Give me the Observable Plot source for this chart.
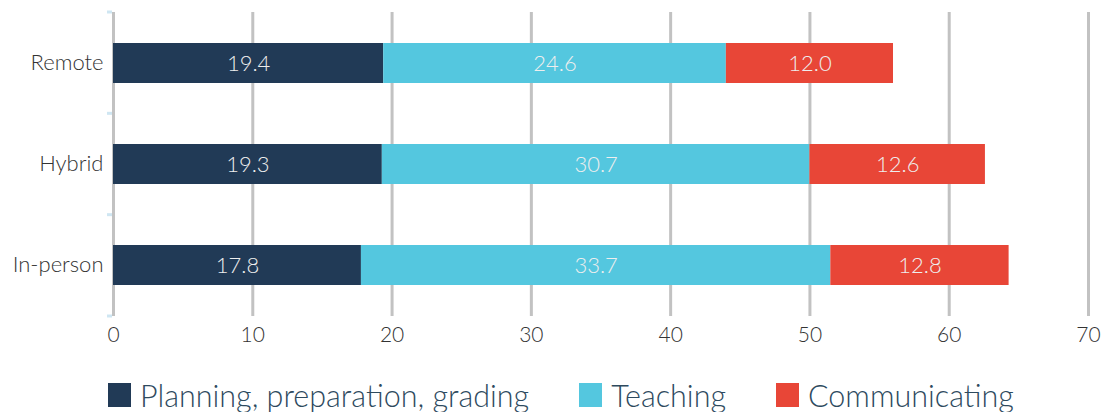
<!DOCTYPE html>
<html>
<head>
<meta charset="utf-8">
<script src="https://cdn.jsdelivr.net/npm/d3@7"></script>
<script src="https://cdn.jsdelivr.net/npm/@observablehq/plot@0.6"></script>
<style>
  body { margin: 0; background: #fff; font-family: Lato, "Open Sans", sans-serif; }
  #legend { display: flex; align-items: center; margin-left: 108px; margin-top: 18px; font-family: Lato, sans-serif; font-weight: 300; font-size: 30.5px; line-height: 34px; color: #2e4a5e; }
  .item { display: flex; align-items: center; margin-right: 50px; }
  .sw { width: 23px; height: 24px; margin-right: 9px; }
</style>
</head>
<body>
<div id="chart"></div>
<div id="legend"></div>
<script>
const categories = ["Remote", "Hybrid", "In-person"];
const seriesNames = ["Planning, preparation, grading", "Teaching", "Communicating"];
const planning = [19.4, 19.3, 17.8];
const teaching = [24.6, 30.7, 33.7];
const communicating = [12.0, 12.6, 12.8];
const xTicks = [0, 10, 20, 30, 40, 50, 60, 70];
const colors = ["#213a56", "#54c7df", "#e84637"];

const seriesValues = [planning, teaching, communicating];
const data = [];
seriesNames.forEach((s, si) => {
  categories.forEach((c, ci) => {
    data.push({category: c, series: s, value: seriesValues[si][ci]});
  });
});

const W = 1116, H = 360, mt = 12, mb = 44;
const bandTicks = (index, scales, values, dims) => {
  const g = d3.create("svg:g");
  const top = dims.marginTop, bottom = dims.height - dims.marginBottom;
  const n = categories.length;
  for (let i = 0; i <= n; i++) {
    const y = top + (bottom - top) * i / n;
    g.append("line").attr("x1", dims.marginLeft - 6).attr("x2", dims.marginLeft - 1)
      .attr("y1", y).attr("y2", y).attr("stroke", "#cfe6f2").attr("stroke-width", 3);
  }
  return g.node();
};

const chart = Plot.plot({
  width: W,
  height: H,
  marginTop: mt,
  marginBottom: mb,
  marginLeft: 113,
  marginRight: 28,
  style: {fontFamily: "Lato, sans-serif", fontSize: "22px", fontWeight: 300, color: "#333", background: "#fff"},
  x: {domain: [0, 70], ticks: xTicks, label: null},
  y: {domain: categories, paddingInner: 0.6, paddingOuter: 0.3, label: null},
  color: {domain: seriesNames, range: colors},
  marks: [
    Plot.gridX(xTicks, {stroke: "#c2c2c2", strokeWidth: 3, strokeOpacity: 1}),
    Plot.barX(data, Plot.stackX({x: "value", y: "category", fill: "series", z: "series"})),
    Plot.text(data, Plot.stackX({x: "value", y: "category", z: "series", text: d => d.value.toFixed(1), fill: "#eeeeee", fontSize: 22, fontWeight: 300})),
    Plot.axisX({ticks: xTicks, tickSize: 0, tickPadding: 11, fontSize: 21, fill: "#333", label: null}),
    Plot.axisY({tickSize: 0, tickPadding: 10, fontSize: 22, fill: "#333", label: null, dy: -1}),
    bandTicks
  ]
});
document.getElementById("chart").appendChild(chart);

const legend = document.getElementById("legend");
seriesNames.forEach((s, i) => {
  const it = document.createElement("div");
  it.className = "item";
  const sw = document.createElement("div");
  sw.className = "sw";
  sw.style.background = colors[i];
  const t = document.createElement("span");
  t.textContent = s;
  it.appendChild(sw); it.appendChild(t);
  legend.appendChild(it);
});
</script>
</body>
</html>
